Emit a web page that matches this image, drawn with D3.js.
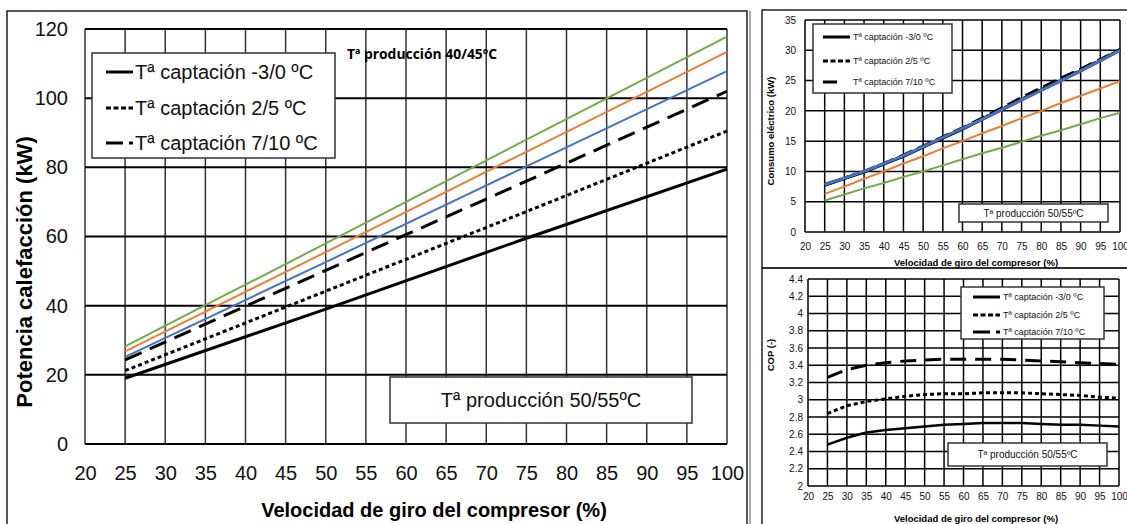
<!DOCTYPE html>
<html>
<head>
<meta charset="utf-8">
<script src="https://cdn.jsdelivr.net/npm/d3@7"></script>
<style>
  body { margin: 0; background: #fff; }
  svg { display: block; }
</style>
</head>
<body>
<svg id="chart" width="1127" height="524"></svg>
<script>
// ---- data ----
var speedTicks = [20, 25, 30, 35, 40, 45, 50, 55, 60, 65, 70, 75, 80, 85, 90, 95, 100];

// big chart: heating power (kW), read at 25/50/75/100 %
var speedCoarse = [25, 50, 75, 100];
var heatSolid  = [19.0, 39.0, 59.5, 79.5];
var heatDotted = [21.2, 44.2, 67.2, 90.5];
var heatDashed = [24.3, 50.2, 76.0, 102.0];
var heatBlue   = [25.2, 52.6, 80.3, 107.8];
var heatOrange = [26.8, 55.5, 84.5, 113.4];
var heatGreen  = [28.2, 58.0, 88.0, 117.8];
var heatTicks = [0, 20, 40, 60, 80, 100, 120];

// electric consumption (kW), every 5 %
var speedFine = [25, 30, 35, 40, 45, 50, 55, 60, 65, 70, 75, 80, 85, 90, 95, 100];
var elecSolid  = [7.7, 8.8, 9.9, 11.2, 12.5, 14.0, 15.5, 17.0, 18.6, 20.2, 21.8, 23.4, 25.0, 26.6, 28.3, 30.0];
var elecDotted = [7.8, 8.9, 10.0, 11.3, 12.6, 14.1, 15.6, 17.1, 18.7, 20.3, 21.9, 23.5, 25.1, 26.7, 28.4, 30.1];
var elecDashed = [7.8, 8.9, 10.0, 11.3, 12.7, 14.2, 15.7, 17.2, 18.8, 20.5, 22.2, 23.8, 25.4, 26.9, 28.5, 30.1];
var elecBlue   = [7.8, 8.9, 10.0, 11.3, 12.6, 14.1, 15.6, 17.1, 18.6, 20.2, 21.8, 23.4, 25.0, 26.6, 28.3, 30.0];
var elecOrange = [6.3, 7.5, 8.8, 10.0, 11.3, 12.5, 13.8, 15.0, 16.3, 17.5, 18.8, 20.0, 21.3, 22.5, 23.7, 24.9];
var elecGreen  = [5.2, 6.2, 7.2, 8.1, 9.1, 10.0, 11.0, 12.0, 13.0, 13.9, 14.9, 15.9, 16.8, 17.8, 18.8, 19.7];
var elecTicks = [0, 5, 10, 15, 20, 25, 30, 35];

// COP (-), every 5 %
var copSolid  = [2.48, 2.56, 2.62, 2.65, 2.67, 2.69, 2.71, 2.72, 2.73, 2.73, 2.73, 2.72, 2.71, 2.71, 2.70, 2.69];
var copDotted = [2.84, 2.93, 2.98, 3.01, 3.04, 3.06, 3.07, 3.07, 3.08, 3.08, 3.08, 3.07, 3.06, 3.05, 3.03, 3.02];
var copDashed = [3.26, 3.35, 3.40, 3.43, 3.45, 3.46, 3.47, 3.47, 3.47, 3.47, 3.46, 3.45, 3.44, 3.43, 3.42, 3.41];
var copTicks = [2, 2.2, 2.4, 2.6, 2.8, 3, 3.2, 3.4, 3.6, 3.8, 4, 4.2, 4.4];

var legendLabels = ['T\u00aa captaci\u00f3n -3/0 \u00baC', 'T\u00aa captaci\u00f3n 2/5 \u00baC', 'T\u00aa captaci\u00f3n 7/10 \u00baC'];
var xTitle = 'Velocidad de giro del compresor (%)';
var prodLabel = 'T\u00aa producci\u00f3n 50/55\u00baC';

var FONT = '"Liberation Sans", Arial, sans-serif';
var svg = d3.select('#chart');

// outer frames
svg.append('rect').attr('x', 7).attr('y', 11).attr('width', 740).attr('height', 530)
  .attr('fill', 'none').attr('stroke', '#222').attr('stroke-width', 1.5);
svg.append('line').attr('x1', 750).attr('x2', 750).attr('y1', 11).attr('y2', 524)
  .attr('stroke', '#555').attr('stroke-width', 1);
svg.append('rect').attr('x', 762).attr('y', 10).attr('width', 380).attr('height', 258)
  .attr('fill', 'none').attr('stroke', '#222').attr('stroke-width', 1.5);
svg.append('rect').attr('x', 762).attr('y', 268).attr('width', 380).attr('height', 270)
  .attr('fill', 'none').attr('stroke', '#222').attr('stroke-width', 1.5);

function drawPanel(cfg) {
  var g = svg.append('g');
  var x = d3.scaleLinear().domain([20, 100]).range([cfg.left, cfg.right]);
  var y = d3.scaleLinear().domain([cfg.yTicks[0], cfg.yTicks[cfg.yTicks.length - 1]]).range([cfg.bottom, cfg.top]);

  g.selectAll('.vgrid').data(speedTicks).join('line')
    .attr('x1', function(d) { return x(d); })
    .attr('x2', function(d) { return x(d); })
    .attr('y1', cfg.top).attr('y2', cfg.bottom)
    .attr('stroke', cfg.vColor).attr('stroke-width', cfg.vWidth);
  g.selectAll('.hgrid').data(cfg.yTicks).join('line')
    .attr('x1', cfg.left).attr('x2', cfg.right)
    .attr('y1', function(d) { return y(d); })
    .attr('y2', function(d) { return y(d); })
    .attr('stroke', '#000').attr('stroke-width', cfg.hWidth);

  var xa = g.append('g').attr('transform', 'translate(0,' + cfg.bottom + ')')
    .call(d3.axisBottom(x).tickValues(speedTicks).tickSize(0).tickPadding(cfg.xPad));
  var ya = g.append('g').attr('transform', 'translate(' + cfg.left + ',0)')
    .call(d3.axisLeft(y).tickValues(cfg.yTicks).tickSize(0).tickPadding(cfg.yPad).tickFormat(function(d) { return String(d); }));
  [xa, ya].forEach(function(a) {
    a.select('.domain').remove();
    a.attr('font-family', FONT).attr('font-size', cfg.tickSize);
    a.selectAll('text').attr('fill', '#111');
  });

  g.append('text').attr('x', cfg.xTitle[0]).attr('y', cfg.xTitle[1])
    .attr('text-anchor', 'middle').attr('dominant-baseline', 'central')
    .attr('font-family', FONT).attr('font-weight', 'bold').attr('font-size', cfg.xTitle[2])
    .text(xTitle);
  g.append('text')
    .attr('transform', 'translate(' + cfg.yTitle[0] + ',' + cfg.yTitle[1] + ') rotate(-90)')
    .attr('text-anchor', 'middle').attr('dominant-baseline', 'central')
    .attr('font-family', FONT).attr('font-weight', 'bold').attr('font-size', cfg.yTitle[2])
    .text(cfg.yLabel);

  var line = d3.line()
    .x(function(d) { return x(d[0]); })
    .y(function(d) { return y(d[1]); });
  cfg.series.forEach(function(s) {
    var pts = s.xs.map(function(v, i) { return [v, s.vals[i]]; });
    g.append('path').datum(pts).attr('d', line)
      .attr('fill', 'none').attr('stroke', s.color).attr('stroke-width', s.width)
      .attr('stroke-dasharray', s.dash || null);
  });

  // legend
  if (cfg.legend) {
    var L = cfg.legend;
    g.append('rect').attr('x', L.x).attr('y', L.y).attr('width', L.w).attr('height', L.h)
      .attr('fill', '#fff').attr('stroke', '#333').attr('stroke-width', 1.5);
    L.items.forEach(function(it, i) {
      var yy = L.rows[i];
      g.append('line').attr('x1', L.sx0).attr('x2', L.sx1).attr('y1', yy).attr('y2', yy)
        .attr('stroke', '#000').attr('stroke-width', L.sw).attr('stroke-dasharray', it.dash || null);
      g.append('text').attr('x', L.tx).attr('y', yy).attr('dominant-baseline', 'central')
        .attr('font-family', FONT).attr('font-size', L.fs).attr('fill', '#111')
        .text(legendLabels[i]);
    });
  }
  // production box
  var B = cfg.box;
  g.append('rect').attr('x', B.x).attr('y', B.y).attr('width', B.w).attr('height', B.h)
    .attr('fill', '#fff').attr('stroke', '#333').attr('stroke-width', 1.5);
  g.append('text').attr('x', B.x + B.w / 2).attr('y', B.y + B.h / 2)
    .attr('text-anchor', 'middle').attr('dominant-baseline', 'central')
    .attr('font-family', FONT).attr('font-size', B.fs).attr('fill', '#111')
    .text(prodLabel);
  return g;
}

// big chart: heating power
var big = drawPanel({
  left: 85, right: 727, top: 29, bottom: 444,
  yTicks: heatTicks, vColor: '#333', vWidth: 1.5, hWidth: 2,
  xPad: 22, yPad: 17, tickSize: 20,
  xTitle: [434, 510, 20], yTitle: [24, 272, 22], yLabel: 'Potencia calefacci\u00f3n (kW)',
  series: [
    { xs: speedCoarse, vals: heatGreen, color: '#70AD47', width: 2 },
    { xs: speedCoarse, vals: heatOrange, color: '#ED7D31', width: 2 },
    { xs: speedCoarse, vals: heatBlue, color: '#4472C4', width: 2 },
    { xs: speedCoarse, vals: heatDashed, color: '#000', width: 3, dash: '18,9' },
    { xs: speedCoarse, vals: heatDotted, color: '#000', width: 3, dash: '4,3' },
    { xs: speedCoarse, vals: heatSolid, color: '#000', width: 3 }
  ],
  legend: { x: 92, y: 53, w: 243, h: 105, rows: [72, 108, 143], sx0: 106, sx1: 133, sw: 3,
    tx: 135, fs: 20, items: [{}, { dash: '5,2.5' }, { dash: '17,6' }] },
  box: { x: 390, y: 377, w: 302, h: 46, fs: 20 }
});
big.append('text').attr('x', 347).attr('y', 54).attr('dominant-baseline', 'central')
  .attr('font-family', '"Open Sans", sans-serif').attr('font-weight', 'bold').attr('font-size', 13.5)
  .attr('textLength', 150).attr('lengthAdjust', 'spacingAndGlyphs')
  .text('T\u00aa producci\u00f3n 40/45\u00baC');

// top-right: electric consumption
drawPanel({
  left: 805, right: 1120, top: 20, bottom: 232,
  yTicks: elecTicks, vColor: '#000', vWidth: 1.5, hWidth: 1.5,
  xPad: 11, yPad: 9, tickSize: 10,
  xTitle: [976, 262, 9.5], yTitle: [770, 131, 9.5], yLabel: 'Consumo el\u00e9ctrico (kW)',
  series: [
    { xs: speedFine, vals: elecGreen, color: '#70AD47', width: 2 },
    { xs: speedFine, vals: elecOrange, color: '#ED7D31', width: 2 },
    { xs: speedFine, vals: elecDashed, color: '#000', width: 3, dash: '14,6' },
    { xs: speedFine, vals: elecDotted, color: '#000', width: 3, dash: '4,3' },
    { xs: speedFine, vals: elecSolid, color: '#000', width: 3 },
    { xs: speedFine, vals: elecBlue, color: '#4472C4', width: 3 }
  ],
  legend: { x: 813, y: 24, w: 139, h: 69, rows: [37, 61, 82], sx0: 823, sx1: 850, sw: 3,
    tx: 853, fs: 9, items: [{}, { dash: '5,2.5' }, { dash: '14,13' }] },
  box: { x: 959, y: 204, w: 149, h: 18, fs: 10 }
});

// bottom-right: COP
drawPanel({
  left: 808, right: 1119, top: 279, bottom: 486,
  yTicks: copTicks, vColor: '#000', vWidth: 1.5, hWidth: 1.5,
  xPad: 7, yPad: 5, tickSize: 10,
  xTitle: [976, 518, 9.5], yTitle: [770, 355, 9.5], yLabel: 'COP (-)',
  series: [
    { xs: speedFine, vals: copDashed, color: '#000', width: 3, dash: '16,9' },
    { xs: speedFine, vals: copDotted, color: '#000', width: 3, dash: '4,3' },
    { xs: speedFine, vals: copSolid, color: '#000', width: 2.5 }
  ],
  legend: { x: 961, y: 287, w: 143, h: 52, rows: [297, 315, 332], sx0: 973, sx1: 1000, sw: 3,
    tx: 1003, fs: 9, items: [{}, { dash: '5,2.5' }, { dash: '17,6' }] },
  box: { x: 948, y: 443, w: 159, h: 23, fs: 10 }
});
</script>
</body>
</html>
